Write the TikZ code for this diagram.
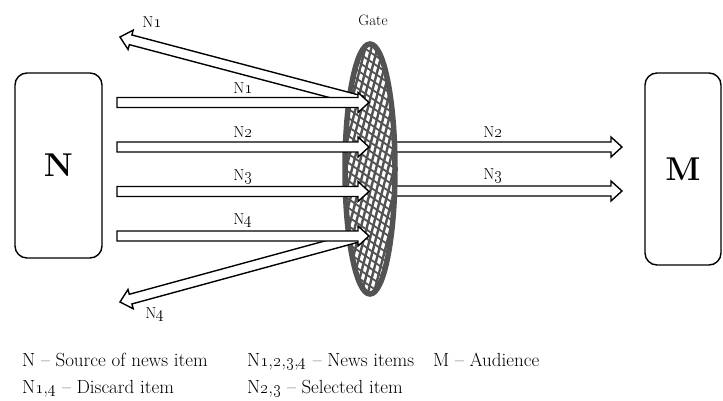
\documentclass[tikz,border=0pt]{standalone}
\usetikzlibrary{calc, positioning, shapes.geometric}

\newcommand\os[1]{\oldstylenums{#1}}
\newcommand\nn[1]{N\oldstylenums{#1}}
\newcommand\hollowarrow[2]{%
	\path ($(#2)!11pt!(#1)$) coordinate (hb);
	\draw[hollow] ($(#1)!5pt!90:(#2)$) -- ($(hb)!5pt!90:(#2)$) -- ($(hb)!10pt!90:(#2)$) -- (#2)
		-- ($(hb)!10pt!-90:(#2)$) -- ($(hb)!5pt!-90:(#2)$) -- ($(#1)!5pt!-90:(#2)$) -- cycle;}

\begin{document}
\begin{tikzpicture}[
						x=1pt, y=-1pt,
						box/.style = {draw, line width=1.4pt, rounded corners=12pt, inner sep=0pt, font=\fontsize{33}{38}\selectfont\bfseries},
						gate/.style = {ellipse, draw=gray!65!black, line width=5.5pt, fill=white, minimum width=50pt, minimum height=250pt, inner sep=0pt},
						mesh/.style = {gray!65!black, line width=2.4pt},
						hollow/.style = {draw, line width=1.4pt, fill=white, line join=miter},
						lbl/.style = {font=\fontsize{16}{18}\selectfont, inner sep=0pt},
						legend/.style = {font=\fontsize{19}{21}\selectfont, anchor=base west, inner sep=0pt}
					]
					\useasboundingbox (0,0) rectangle (723,401);

					\node[box, minimum width=87pt, minimum height=185pt] (src) at (58.5,165.5) {N};
					\node[box, minimum width=76pt, minimum height=192pt] (aud) at (683,169) {M};

					\coordinate (in1) at (117,102.5);
					\coordinate (in2) at (117,147);
					\coordinate (in3) at (117,191.5);
					\coordinate (in4) at (117,236);
					\coordinate (g1) at (369,102.5);
					\coordinate (g2) at (369,147);
					\coordinate (g3) at (369,191.5);
					\coordinate (g4) at (369,236);
					\coordinate (o2s) at (390,147);
					\coordinate (o3s) at (390,191);
					\coordinate (o2t) at (622,147);
					\coordinate (o3t) at (622,191);
					\coordinate (d1s) at (362,101);
					\coordinate (d4s) at (362,236);
					\coordinate (d1t) at (120,37);
					\coordinate (d4t) at (120,302);

					\hollowarrow{o2s}{o2t}
					\hollowarrow{o3s}{o3t}

					\node[gate, path picture={
						\foreach \i in {-12,...,12}
							\draw[mesh] ($(path picture bounding box.center)+(\i*6-35,135)$) -- ++(70,-270);
						\foreach \j in {-20,...,20}
							\draw[mesh, line width=1.8pt] ($(path picture bounding box.center)+(-40,\j*9-28)$) -- ++(80,56);
					}] (gate) at (370,169) {};
					\node[lbl, font=\fontsize{15}{17}\selectfont] (gatel) at (373,20) {Gate};

					\hollowarrow{d1s}{d1t}
					\hollowarrow{d4s}{d4t}
					\foreach \k in {1,...,4} {
						\hollowarrow{in\k}{g\k}
					}

					\node[lbl] (l1) at (243,88) {\nn{1}};
					\node[lbl] (l2) at (243,132) {\nn{2}};
					\node[lbl] (l3) at (243,177) {\nn{3}};
					\node[lbl] (l4) at (243,221) {\nn{4}};
					\node[lbl] (d1l) at (152,22) {\nn{1}};
					\node[lbl] (d4l) at (155,315) {\nn{4}};
					\node[lbl] (o2l) at (493,132) {\nn{2}};
					\node[lbl] (o3l) at (493,176) {\nn{3}};

					\node[legend] (key1) at (22,366) {N -- Source of news item};
					\node[legend] (key2) at (247,366) {N\os{1},\os{2},\os{3},\os{4} -- News items};
					\node[legend] (key3) at (433,366) {M -- Audience};
					\node[legend] (key4) at (22,393) {N\os{1},\os{4} -- Discard item};
					\node[legend] (key5) at (247,393) {N\os{2},\os{3} -- Selected item};
				\end{tikzpicture}
\end{document}
